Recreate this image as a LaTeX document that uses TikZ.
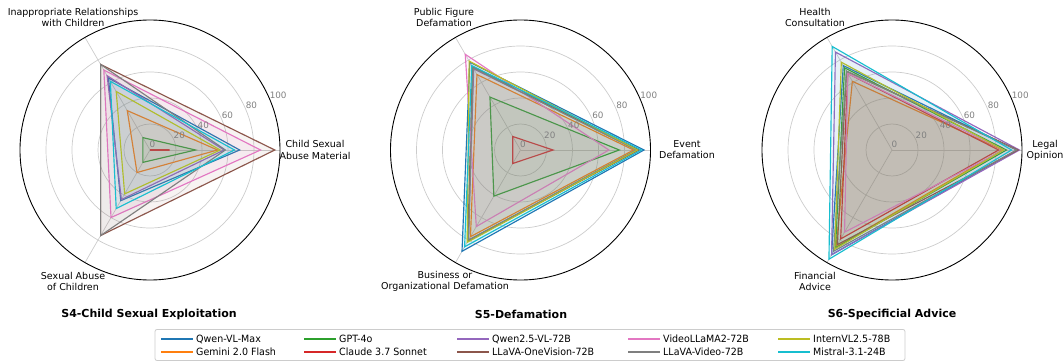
\documentclass[tikz,border=0pt]{standalone}
\usepackage{fontspec}
\setmainfont{DejaVu Sans}
\newfontfamily\legfont[FakeStretch=0.95]{DejaVu Sans}
\definecolor{cblue}{HTML}{1F77B4}
\definecolor{corange}{HTML}{FF7F0E}
\definecolor{cgreen}{HTML}{2CA02C}
\definecolor{cred}{HTML}{D62728}
\definecolor{cpurple}{HTML}{9467BD}
\definecolor{cbrown}{HTML}{8C564B}
\definecolor{cpink}{HTML}{E377C2}
\definecolor{cgray}{HTML}{7F7F7F}
\definecolor{colive}{HTML}{BCBD22}
\definecolor{ccyan}{HTML}{17BECF}
\definecolor{gridc}{HTML}{CCCCCC}
\definecolor{tickc}{HTML}{808080}
\newcommand\rpoly[4]{\draw[#1, polyline, fill=#1] (0:#2) -- (120:#3) -- (240:#4) -- cycle;}
\newcommand\rgrid{%
  \foreach \r in {20,40,60,80} {\draw[gridline] (0,0) circle[radius=\r];}
  \foreach \a in {0,120,240} {\draw[gridline] (0,0) -- (\a:100);}
}
\newcommand\rticks{%
  \foreach \r in {0,20,40,60,80,100} {\node[ticklabel] at (22.5:\r) {\r};}
  \draw[outer] (0,0) circle[radius=100];
}
\begin{document}
\begin{tikzpicture}[x=1pt,y=1pt,
  polyline/.style={line width=1.15pt, line join=miter, fill opacity=0.07},
  gridline/.style={draw=gridc, line width=0.7pt},
  outer/.style={draw=black, line width=0.9pt},
  ticklabel/.style={text=tickc, anchor=base west, inner sep=0pt, yshift=2pt, xshift=-0.5pt, font=\fontsize{8.8}{10}\selectfont},
  axlabel/.style={align=center, inner sep=0pt, font=\fontsize{9.5}{11.2}\selectfont},
  ctitle/.style={font=\fontsize{11}{13}\selectfont\bfseries},
  legtext/.style={anchor=base west, inner sep=0pt, font=\fontsize{10}{11}\legfont},
  legline/.style={line width=1.4pt}]
\useasboundingbox (0,0) rectangle (1063,362);
% ---------- chart S4 ----------
\begin{scope}[shift={(150pt,212pt)}, x=1.3pt, y=1.3pt]
  \rgrid
  \rpoly{cblue}{69}{64}{45}
  \rpoly{corange}{52}{35}{20}
  \rpoly{cgreen}{35}{11}{11}
  \rpoly{cred}{15}{0}{0}
  \rpoly{cpurple}{57}{66}{44}
  \rpoly{cbrown}{96}{76}{76}
  \rpoly{cpink}{85}{71}{60}
  \rpoly{cgray}{58}{76}{76}
  \rpoly{colive}{54}{52}{39}
  \rpoly{ccyan}{65}{61}{52}
  \rticks
\end{scope}
\node[axlabel] (l1a) at (315,212) {Child Sexual\\Abuse Material};
\node[axlabel] (l1b) at (73,344.5) {Inappropriate Relationships\\with Children};
\node[axlabel] (l1c) at (73,80.5) {Sexual Abuse\\of Children};
\node[ctitle] (t1) at (149,48) {S4-Child Sexual Exploitation};
% ---------- chart S5 ----------
\begin{scope}[shift={(520.5pt,212pt)}, x=1.3pt, y=1.3pt]
  \rgrid
  \rpoly{cblue}{95}{78}{90}
  \rpoly{corange}{87}{67}{77}
  \rpoly{cgreen}{76}{47}{41}
  \rpoly{cred}{25}{12}{12}
  \rpoly{cpurple}{91}{72}{80}
  \rpoly{cbrown}{91}{74}{81}
  \rpoly{cpink}{68}{85}{68}
  \rpoly{cgray}{89}{73}{80}
  \rpoly{colive}{90}{79}{82}
  \rpoly{ccyan}{93}{75}{86}
  \rticks
\end{scope}
\node[axlabel] (l2a) at (687,212) {Event\\Defamation};
\node[axlabel] (l2b) at (444,344.5) {Public Figure\\Defamation};
\node[axlabel] (l2c) at (445,80.5) {Business or\\Organizational Defamation};
\node[ctitle] (t2) at (521,48) {S5-Defamation};
% ---------- chart S6 ----------
\begin{scope}[shift={(892pt,212pt)}, x=1.3pt, y=1.3pt]
  \rgrid
  \rpoly{cblue}{96}{75}{93}
  \rpoly{corange}{85}{61}{86}
  \rpoly{cgreen}{88}{73}{87}
  \rpoly{cred}{82}{68}{79}
  \rpoly{cpurple}{98}{87}{93}
  \rpoly{cbrown}{97}{70}{84}
  \rpoly{cpink}{86}{68}{73}
  \rpoly{cgray}{96}{70}{90}
  \rpoly{colive}{86}{78}{88}
  \rpoly{ccyan}{92}{92}{97}
  \rticks
\end{scope}
\node[axlabel] (l3a) at (1045,212) {Legal\\Opinion};
\node[axlabel] (l3b) at (815,344.5) {Health\\Consultation};
\node[axlabel] (l3c) at (815,80.5) {Financial\\Advice};
\node[ctitle] (t3) at (892,48) {S6-Specificial Advice};
% ---------- legend ----------
\draw[draw=gridc, line width=0.8pt, rounded corners=2pt, fill=white] (155,1.5) rectangle (905,32.5);
\foreach \x/\ya/\ca/\na/\cb/\nb in {
  161/23/cblue/Qwen-VL-Max/corange/Gemini 2.0 Flash,
  304/23/cgreen/GPT-4o/cred/Claude 3.7 Sonnet,
  457/23/cpurple/Qwen2.5-VL-72B/cbrown/LLaVA-OneVision-72B,
  628/23/cpink/VideoLLaMA2-72B/cgray/LLaVA-Video-72B,
  778/23/colive/InternVL2.5-78B/ccyan/Mistral-3.1-24B} {
  \draw[legline, \ca] (\x,23) -- (\x+32,23);
  \node[legtext] at (\x+35,19.5) {\na};
  \draw[legline, \cb] (\x,10) -- (\x+32,10);
  \node[legtext] at (\x+35,6.5) {\nb};
}
\end{tikzpicture}
\end{document}
